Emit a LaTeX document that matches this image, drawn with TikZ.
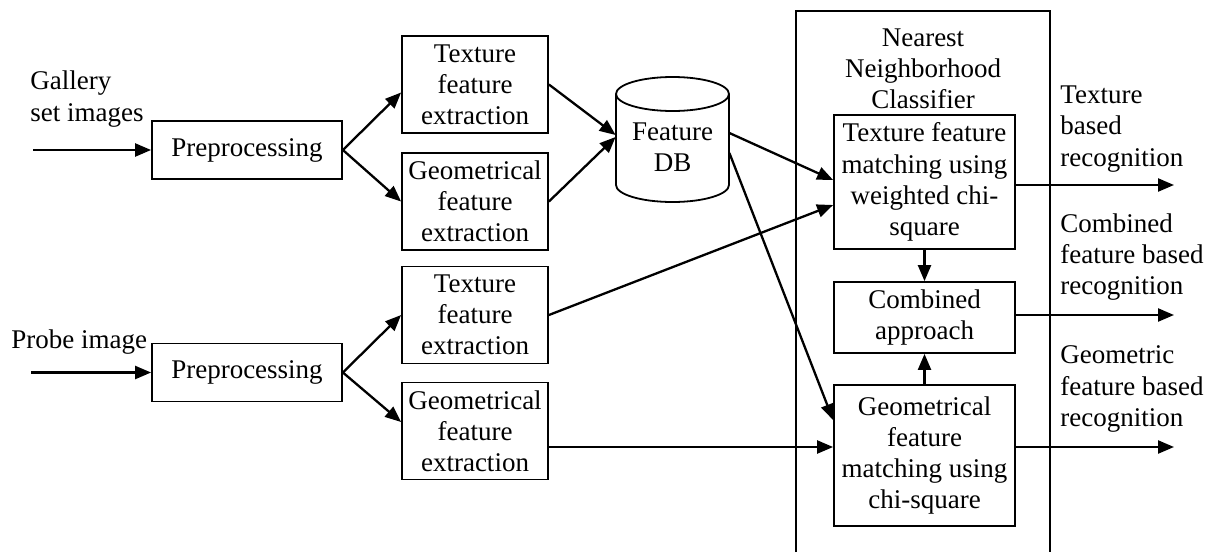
\documentclass[tikz,border=0pt]{standalone}
\usepackage{fontspec}
\setmainfont{Liberation Serif}
\usetikzlibrary{arrows.meta,calc}

\begin{document}
\begin{tikzpicture}[x=0.5pt,y=0.5pt,yscale=-1,xscale=1,
    every node/.style={font=\fontsize{13.5pt}{15.6pt}\selectfont, inner sep=0pt},
    procbox/.style={draw, line width=0.9pt, align=center, minimum width=95pt, minimum height=29pt},
    featbox/.style={draw, line width=0.9pt, align=center, minimum width=73pt, minimum height=48.5pt},
    matchbox/.style={draw, line width=0.9pt, align=center, minimum width=90.5pt},
    flow/.style={line width=1.15pt, -{Triangle[length=8pt,width=6.5pt]}}]
            \useasboundingbox (0,0) rectangle (1208,552);
            %Shape: Rectangle (classifier frame)
            \draw [line width=0.8pt]  (796,552) -- (796,11) -- (1050,11) -- (1050,552) ;
            %Shape: Can
            \draw [line width=0.9pt]  (672.5,94) ellipse [x radius=56.5, y radius=17] ;
            \draw [line width=0.9pt]  (616,94) -- (616,185) arc [start angle=180, end angle=0, x radius=56.5, y radius=17] -- (729,94) ;

            % Text Node
            \node [anchor=west, align=left] (gal) at (30,99) {Gallery\\set images};
            % Text Node
            \node [anchor=west] (probe) at (11,342) {Probe image};
            % Text Node
            \node [align=center] (nnc) at (923,68.5) {Nearest\\Neighborhood\\Classifier};
            % Text Node
            \node [align=center, minimum width=56.5pt] (db) at (672.5,147) {Feature\\DB};

            % Boxes
            \node [procbox] (pre1) at (247,150) {Preprocessing};
            \node [procbox] (pre2) at (247,372.5) {Preprocessing};
            \node [featbox] (tex1) at (475,84.5) {Texture\\feature\\extraction};
            \node [featbox] (geo1) at (475,201.5) {Geometrical\\feature\\extraction};
            \node [featbox] (tex2) at (475,315) {Texture\\feature\\extraction};
            \node [featbox] (geo2) at (475,431) {Geometrical\\feature\\extraction};
            \node [matchbox, minimum height=67pt] (tmatch) at (924.5,182) {Texture feature\\matching using\\weighted chi-\\square};
            \node [matchbox, minimum height=35.5pt] (cmb) at (924.5,317.5) {Combined\\approach};
            \node [matchbox, minimum height=70.5pt] (gmatch) at (924.5,455.5) {Geometrical\\feature\\matching using\\chi-square};

            % Text Node
            \node [anchor=west, align=left] (res1) at (1060,129) {Texture\\based\\recognition};
            % Text Node
            \node [anchor=west, align=left] (res2) at (1060,257) {Combined\\feature based\\recognition};
            % Text Node
            \node [anchor=west, align=left] (res3) at (1060,389) {Geometric\\feature based\\recognition};

            \coordinate (in1) at (33,150);
            \coordinate (in2) at (31,372.5);
            \coordinate (outx) at (1174,0);

            %Straight Lines
            \draw [flow] (in1) -- (pre1.west) ;
            \draw [flow] (in2) -- (pre2.west) ;
            \draw [flow] (pre1.east) -- ($(tex1.west)+(0,8)$) ;
            \draw [flow] (pre1.east) -- (geo1.west) ;
            \draw [flow] (pre2.east) -- (tex2.west) ;
            \draw [flow] (pre2.east) -- ($(geo2.west)+(0,-9)$) ;
            \draw [flow] (tex1.east) -- ($(db.west)+(0,-12)$) ;
            \draw [flow] (geo1.east) -- ($(db.west)+(0,-10)$) ;
            \draw [flow] ($(db.east)+(0,-14)$) -- ($(tmatch.west)+(0,-2)$) ;
            \draw [flow] ($(db.east)+(0,6)$) -- ($(gmatch.west)+(0,-35.5)$) ;
            \draw [flow] (tex2.east) -- ($(tmatch.west)+(0,23)$) ;
            \draw [flow] ($(geo2.east)+(0,16)$) coordinate (g2o) -- (g2o -| gmatch.west) ;
            \draw [flow] (tmatch.south) -- (cmb.north) ;
            \draw [flow] (gmatch.north) -- (cmb.south) ;
            \draw [flow] ($(tmatch.east)+(0,3)$) coordinate (o1) -- (o1 -| outx) ;
            \draw [flow] ($(cmb.east)+(0,-2.5)$) coordinate (o2) -- (o2 -| outx) ;
            \draw [flow] ($(gmatch.east)+(0,-8.5)$) coordinate (o3) -- (o3 -| outx) ;
\end{tikzpicture}
\end{document}
